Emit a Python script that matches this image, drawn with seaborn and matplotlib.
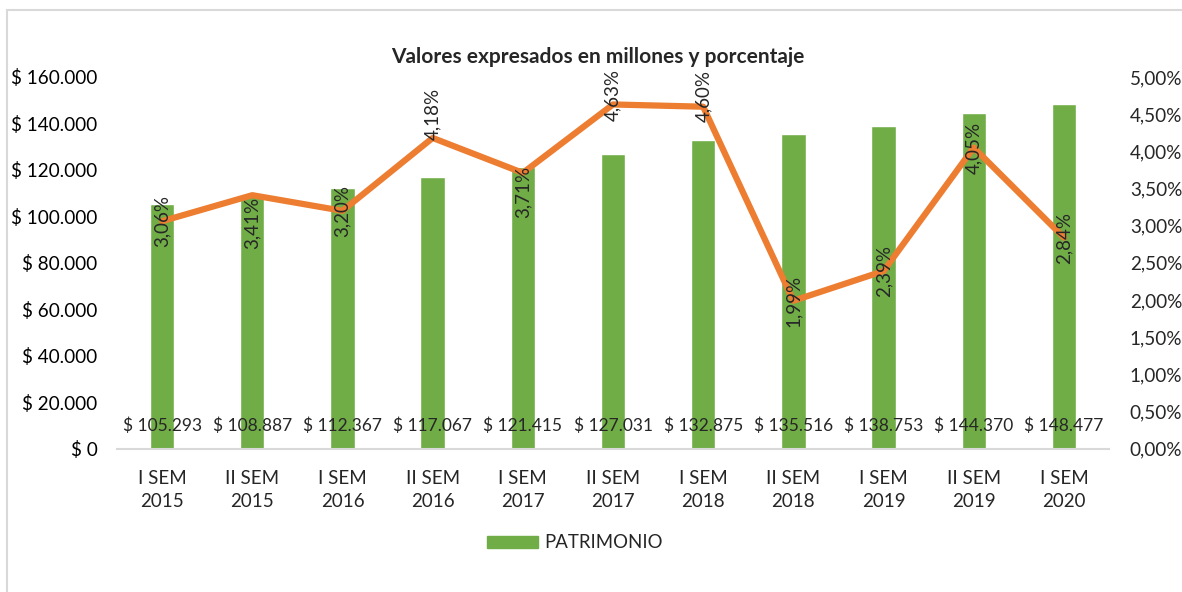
import matplotlib
matplotlib.use("Agg")
import matplotlib.pyplot as plt
import matplotlib.ticker as mticker
import pandas as pd
import seaborn as sns

# datos
periodos = ["I SEM\n2015", "II SEM\n2015", "I SEM\n2016", "II SEM\n2016", "I SEM\n2017",
            "II SEM\n2017", "I SEM\n2018", "II SEM\n2018", "I SEM\n2019", "II SEM\n2019",
            "I SEM\n2020"]
patrimonio = [105293, 108887, 112367, 117067, 121415, 127031, 132875, 135516, 138753, 144370, 148477]
porcentaje = [3.06, 3.41, 3.20, 4.18, 3.71, 4.63, 4.60, 1.99, 2.39, 4.05, 2.84]

# desplazamiento vertical de las etiquetas (px, positivo = abajo)
label_shift = [0, 28, 0, -24, 19, -9, -11, 0, 0, 0, 0]

df = pd.DataFrame({"periodo": periodos, "patrimonio": patrimonio,
                   "porcentaje": [p / 100 for p in porcentaje]})

sns.set_style("white")
plt.rcParams["font.family"] = ["Lato", "DejaVu Sans"]

verde = "#70AD47"
naranja = "#ED7D31"
gris = "#D9D9D9"

fig = plt.figure(figsize=(11.82, 5.92), dpi=100)
ax = fig.add_axes([117 / 1182, 0.242, (1109 - 117) / 1182, 0.628])

sns.barplot(data=df, x="periodo", y="patrimonio", color=verde, width=0.27,
            saturation=1, ax=ax)
ax.set_ylim(0, 160000)
ax.set_xlim(-0.5, len(periodos) - 0.5)
ax.yaxis.set_major_locator(mticker.MultipleLocator(20000))
ax.yaxis.set_major_formatter(mticker.FuncFormatter(
    lambda v, p: "$ " + f"{v:,.0f}".replace(",", ".")))
ax.set_xlabel("")
ax.set_ylabel("")
for s in ["top", "right", "left"]:
    ax.spines[s].set_visible(False)
ax.spines["bottom"].set_color(gris)
ax.spines["bottom"].set_linewidth(1.5)
ax.tick_params(axis="y", length=0, pad=14, labelsize=13.6, colors="#000000")
ax.tick_params(axis="x", which="major", length=0, pad=15, labelsize=13.5)
for t in ax.get_xticklabels():
    t.set_linespacing(1.45)
ax.set_xticks([i - 0.5 for i in range(len(periodos) + 1)], minor=True)
ax.tick_params(axis="x", which="minor", length=6, width=1.5, color=gris, direction="out")

for i, v in enumerate(patrimonio):
    ax.text(i, 10000, "$ " + f"{v:,}".replace(",", "."), ha="center", va="center",
            fontsize=12.5)

ax2 = ax.twinx()
sns.lineplot(data=df, x="periodo", y="porcentaje", sort=False, color=naranja,
             linewidth=4.5, ax=ax2, legend=False)
ax2.set_ylim(0, 0.05)
ax2.yaxis.set_major_locator(mticker.MultipleLocator(0.005))
ax2.yaxis.set_major_formatter(mticker.FuncFormatter(
    lambda v, p: f"{v * 100:.2f}%".replace(".", ",")))
ax2.set_ylabel("")
for s in ax2.spines.values():
    s.set_visible(False)
ax2.tick_params(axis="y", length=0, pad=15, labelsize=13.6)

for i, (v, sh) in enumerate(zip(porcentaje, label_shift)):
    ax2.annotate(f"{v:.2f}%".replace(".", ","), (i, v / 100), xytext=(0, -sh * 0.72),
                 textcoords="offset points", rotation=90, ha="center", va="center",
                 fontsize=13.5)

fig.text(598 / 1182, 1 - 57 / 592, "Valores expresados en millones y porcentaje",
         ha="center", va="center", fontsize=15, fontweight="bold")

fig.legend(handles=[plt.Rectangle((0, 0), 1, 1, color=verde)], labels=["PATRIMONIO"],
           loc="center", bbox_to_anchor=(575 / 1182, 1 - 543 / 592), frameon=False,
           fontsize=13.4, handlelength=2.75, handleheight=0.6, handletextpad=0.35)

borde = plt.Rectangle((7 / 1182, -0.1), 1.1, 1 - 10 / 592 + 0.1, transform=fig.transFigure,
                      fill=False, edgecolor=gris, linewidth=1.5)
fig.patches.append(borde)

fig.savefig("out.png", dpi=100)
